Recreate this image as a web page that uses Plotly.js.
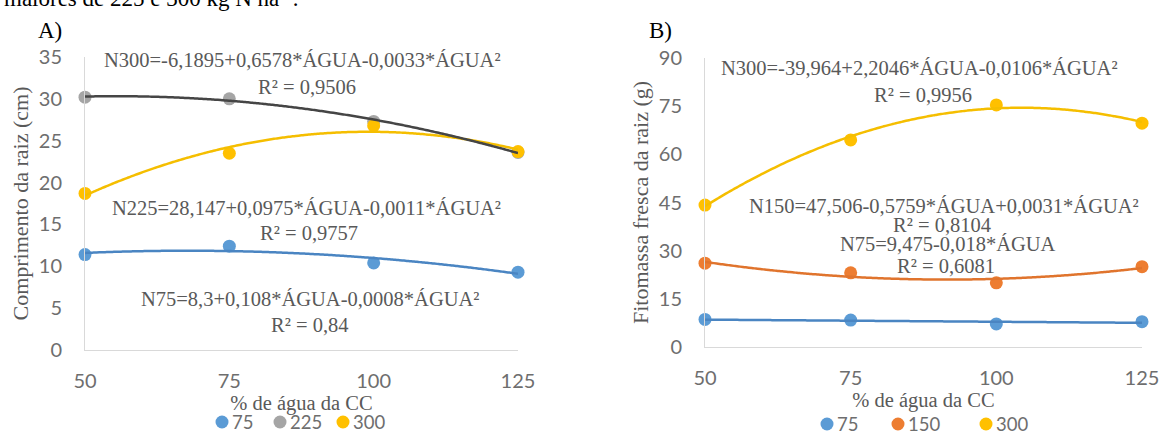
<!DOCTYPE html>
<html>
<head>
<meta charset="utf-8">
<script src="https://cdn.plot.ly/plotly-3.0.1.min.js"></script>
<style>html,body{margin:0;padding:0;background:#fff;}#chart{width:1162px;height:435px;}</style>
</head>
<body>
<div id="chart"></div>
<script>
// ---------- data ----------
const waterLevels = [50, 75, 100, 125];            // % de água da CC
const xTicks = [50, 75, 100, 125];

// Panel A – Comprimento da raiz (cm)
const seriesNamesA = ['75', '225', '300'];
const rootLenN75  = [11.4, 12.4, 10.4, 9.3];
const rootLenN225 = [30.2, 30.0, 27.3, 23.6];
const rootLenN300 = [18.7, 23.5, 26.8, 23.7];

// Panel B – Fitomassa fresca da raiz (g)
const seriesNamesB = ['75', '150', '300'];
const rootMassN75  = [8.6, 8.4, 7.2, 7.9];
const rootMassN150 = [26.1, 23.1, 20.0, 25.0];
const rootMassN300 = [44.2, 64.5, 75.4, 69.7];

// Trendline polynomial order for each series (least-squares, as in the source chart)
const trendOrderA = [2, 2, 2];
const trendOrderB = [1, 2, 2];

// Equation labels printed on the chart
const eqA = [
  'N300=-6,1895+0,6578*ÁGUA-0,0033*ÁGUA²', 'R² = 0,9506',
  'N225=28,147+0,0975*ÁGUA-0,0011*ÁGUA²', 'R² = 0,9757',
  'N75=8,3+0,108*ÁGUA-0,0008*ÁGUA²', 'R² = 0,84'
];
const eqB = [
  'N300=-39,964+2,2046*ÁGUA-0,0106*ÁGUA²', 'R² = 0,9956',
  'N150=47,506-0,5759*ÁGUA+0,0031*ÁGUA²', 'R² = 0,8104',
  'N75=9,475-0,018*ÁGUA', 'R² = 0,6081'
];

// ---------- helpers ----------
const W = 1162, H = 435;
const px = v => v / W;
const py = v => 1 - v / H;

// least-squares polynomial fit (trendline) of the plotted points
function polyfit(xs, ys, order) {
  const n = order + 1;
  const A = [], b = [];
  for (let i = 0; i < n; i++) {
    A.push([]);
    for (let j = 0; j < n; j++) A[i].push(xs.reduce((s, x) => s + Math.pow(x, i + j), 0));
    b.push(xs.reduce((s, x, k) => s + ys[k] * Math.pow(x, i), 0));
  }
  for (let c = 0; c < n; c++) {            // Gaussian elimination
    for (let r = c + 1; r < n; r++) {
      const f = A[r][c] / A[c][c];
      for (let k = c; k < n; k++) A[r][k] -= f * A[c][k];
      b[r] -= f * b[c];
    }
  }
  const coef = new Array(n).fill(0);
  for (let r = n - 1; r >= 0; r--) {
    let s = b[r];
    for (let k = r + 1; k < n; k++) s -= A[r][k] * coef[k];
    coef[r] = s / A[r][r];
  }
  return coef;
}
function trendXY(ys, order) {
  const c = polyfit(waterLevels, ys, order);
  const xs = [], out = [];
  const x0 = waterLevels[0], x1 = waterLevels[waterLevels.length - 1];
  for (let x = x0; x <= x1; x += 0.5) {
    xs.push(x);
    out.push(c.reduce((s, ci, i) => s + ci * Math.pow(x, i), 0));
  }
  return {xs, ys: out};
}

const C = {blue: '#5B9BD5', gray: '#A5A5A5', yellow: '#FFC000', orange: '#ED7D31'};
const colorsA = [C.blue, C.gray, C.yellow];
const colorsB = [C.blue, C.orange, C.yellow];
const sansFam = 'Lato, "Open Sans", sans-serif';
const tickFont = {family: sansFam, size: 20, color: '#6e6e6e'};
const serif = 'Liberation Serif, "Times New Roman", serif';
const textGray = '#595959';

function pts(y, name, color, xa, ya) {
  return {x: waterLevels, y: y, name: name, type: 'scatter', mode: 'markers',
    xaxis: xa, yaxis: ya, cliponaxis: false, showlegend: false,
    marker: {color: color, size: 13}};
}
function trend(ys, order, color, xa, ya) {
  const f = trendXY(ys, order);
  return {x: f.xs, y: f.ys, type: 'scatter', mode: 'lines', showlegend: false,
    hoverinfo: 'skip', xaxis: xa, yaxis: ya, cliponaxis: false,
    line: {color: color, width: 2.5, shape: 'spline'}};
}

const traces = [
  pts(rootLenN75,  seriesNamesA[0], colorsA[0], 'x', 'y'),
  pts(rootLenN225, seriesNamesA[1], colorsA[1], 'x', 'y'),
  pts(rootLenN300, seriesNamesA[2], colorsA[2], 'x', 'y'),
  trend(rootLenN75,  trendOrderA[0], '#4a85c2', 'x', 'y'),
  trend(rootLenN300, trendOrderA[2], '#F5BE00', 'x', 'y'),
  trend(rootLenN225, trendOrderA[1], '#454545', 'x', 'y'),

  pts(rootMassN75,  seriesNamesB[0], colorsB[0], 'x2', 'y2'),
  pts(rootMassN150, seriesNamesB[1], colorsB[1], 'x2', 'y2'),
  pts(rootMassN300, seriesNamesB[2], colorsB[2], 'x2', 'y2'),
  trend(rootMassN75,  trendOrderB[0], '#4a85c2', 'x2', 'y2'),
  trend(rootMassN150, trendOrderB[1], '#E0742D', 'x2', 'y2'),
  trend(rootMassN300, trendOrderB[2], '#F5BE00', 'x2', 'y2')
];

function xaxis(domain, anchor) {
  return {domain: domain, anchor: anchor, range: [50, 125], tickvals: xTicks,
    showline: true, linecolor: '#D9D9D9', linewidth: 1, showgrid: false, zeroline: false,
    ticks: '', ticklabelstandoff: 13, tickfont: tickFont, fixedrange: true,
    title: {text: '% de água da CC', font: {family: serif, size: 20.5, color: textGray}, standoff: 0}};
}
function yaxis(domain, anchor, range, dtick, title) {
  return {domain: domain, anchor: anchor, range: range, dtick: dtick,
    showline: true, linecolor: '#D9D9D9', linewidth: 1, showgrid: false, zeroline: false,
    ticks: '', ticklabelstandoff: 18, tickfont: tickFont, fixedrange: true,
    title: {text: title, font: {family: serif, size: 22, color: textGray}, standoff: 4}};
}

function eqAnn(text, cx, cy) {
  return {text: text, x: px(cx), y: py(cy), xref: 'paper', yref: 'paper',
    xanchor: 'center', yanchor: 'middle', showarrow: false,
    font: {family: serif, size: 20.5, color: textGray}};
}

const annotations = [
  {text: 'maiores de 225 e 300 kg N ha<sup>-1</sup>.', x: px(2), y: py(-3), xref: 'paper', yref: 'paper',
   xanchor: 'left', yanchor: 'middle', showarrow: false, font: {family: serif, size: 23, color: '#000'}},
  {text: 'A)', x: px(36), y: py(30), xref: 'paper', yref: 'paper', xanchor: 'left', yanchor: 'middle',
   showarrow: false, font: {family: serif, size: 23, color: '#000'}},
  {text: 'B)', x: px(647), y: py(30), xref: 'paper', yref: 'paper', xanchor: 'left', yanchor: 'middle',
   showarrow: false, font: {family: serif, size: 23, color: '#000'}},
  eqAnn(eqA[0], 302, 60), eqAnn(eqA[1], 307, 87),
  eqAnn(eqA[2], 306, 208), eqAnn(eqA[3], 309, 233),
  eqAnn(eqA[4], 310, 299), eqAnn(eqA[5], 310, 325),
  eqAnn(eqB[0], 920, 68), eqAnn(eqB[1], 923, 95),
  eqAnn(eqB[2], 944, 206), eqAnn(eqB[3], 942, 225),
  eqAnn(eqB[4], 948, 244), eqAnn(eqB[5], 946, 266)
];

// ---------- legends (dot + label, one row under each panel) ----------
const shapes = [];
function addLegend(names, colors, dotX, cy) {
  names.forEach((n, i) => {
    shapes.push({type: 'circle', xref: 'paper', yref: 'paper',
      xsizemode: 'pixel', ysizemode: 'pixel', xanchor: px(dotX[i]), yanchor: py(cy),
      x0: -6.5, x1: 6.5, y0: -6.5, y1: 6.5,
      fillcolor: colors[i], line: {width: 0}});
    annotations.push({text: n, x: px(dotX[i] + 8), y: py(cy), xref: 'paper', yref: 'paper',
      xanchor: 'left', yanchor: 'middle', showarrow: false,
      font: {family: sansFam, size: 18.5, color: '#6e6e6e'}});
  });
}
addLegend(seriesNamesA, colorsA, [222, 280, 343], 422);
addLegend(seriesNamesB, colorsB, [827, 898, 986], 424);

const layout = {
  width: W, height: H,
  margin: {l: 0, r: 0, t: 0, b: 0},
  paper_bgcolor: '#fff', plot_bgcolor: '#fff',
  showlegend: false,
  xaxis:  xaxis([px(85), px(518)], 'y'),
  yaxis:  yaxis([py(350), py(57)], 'x', [0, 35], 5, 'Comprimento da raiz (cm)'),
  xaxis2: xaxis([px(705), px(1142)], 'y2'),
  yaxis2: yaxis([py(347), py(58)], 'x2', [0, 90], 15, 'Fitomassa fresca da raiz (g)'),
  shapes: shapes,
  annotations: annotations
};

Plotly.newPlot('chart', traces, layout, {staticPlot: true, displayModeBar: false});
</script>
</body>
</html>
